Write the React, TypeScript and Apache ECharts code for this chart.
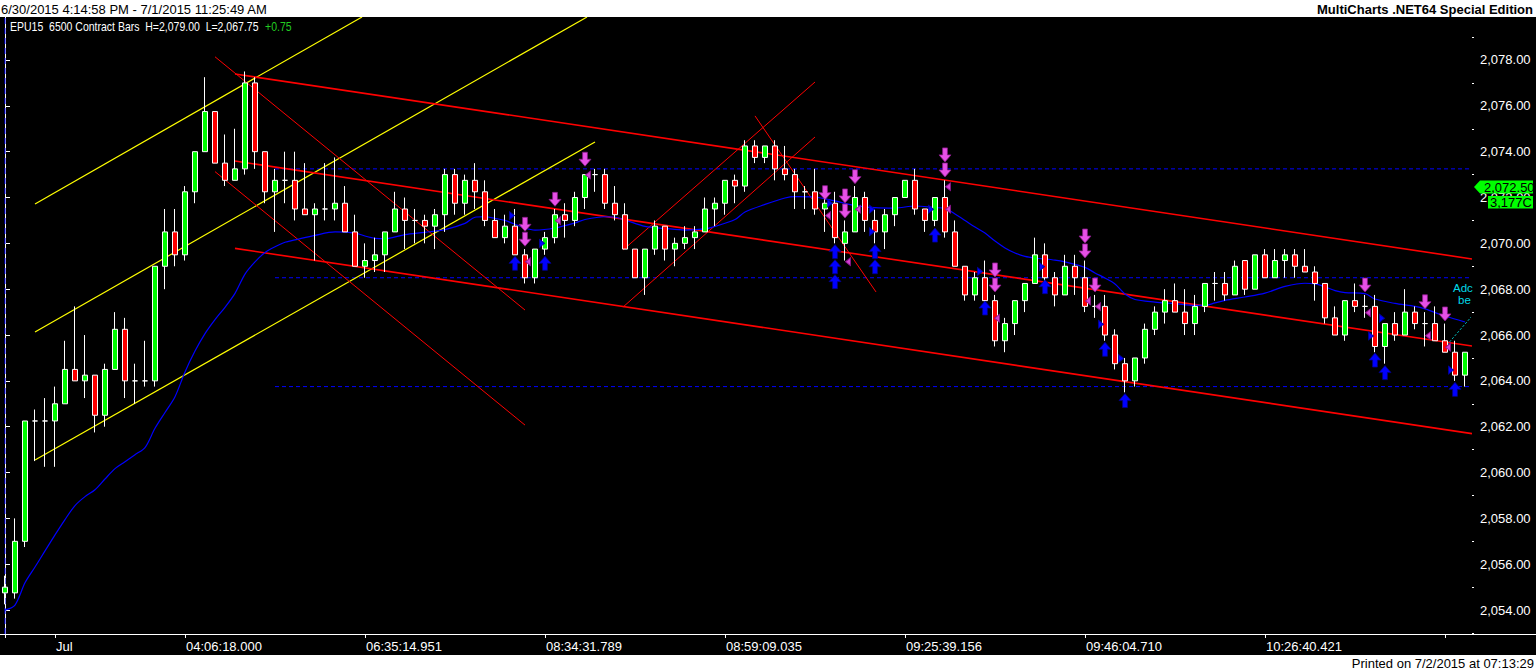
import React, { useEffect, useRef } from "react";
import * as echarts from "echarts";

// ---------- DATA ----------
const barOpen = [
  2054.75, 2054.75, 2057.0, 2062.25, 2062.25, 2062.25, 2063.0, 2064.5, 2064.0, 2064.25,
  2062.5, 2064.5, 2066.25, 2064.0, 2064.0, 2064.0, 2069.0, 2070.5, 2069.5, 2072.25,
  2074.0, 2075.75, 2073.5, 2072.75, 2073.25, 2077.0, 2074.0, 2072.25, 2072.75, 2072.75,
  2071.5, 2071.25, 2071.5, 2071.5, 2071.75, 2070.5, 2069.0, 2069.25, 2069.5, 2070.5,
  2071.5, 2071.0, 2071.0, 2070.75, 2071.25, 2073.0, 2071.75, 2072.75, 2072.25, 2071.0,
  2070.25, 2070.75, 2069.5, 2068.5, 2069.75, 2070.25, 2071.25, 2071.0, 2072.0, 2073.0,
  2073.0, 2071.75, 2071.25, 2069.75, 2068.5, 2069.75, 2070.75, 2069.75, 2070.0, 2070.25,
  2070.5, 2071.5, 2071.75, 2072.75, 2072.5, 2074.25, 2073.75, 2074.25, 2073.25, 2073.0,
  2072.25, 2072.25, 2071.5, 2071.75, 2070.0, 2070.5, 2072.0, 2071.0, 2070.5, 2071.25,
  2072.0, 2072.75, 2071.5, 2071.0, 2072.0, 2070.5, 2069.0, 2067.75, 2068.5, 2067.5,
  2065.75, 2066.5, 2067.5, 2068.25, 2069.5, 2068.5, 2067.75, 2069.0, 2068.5, 2067.25,
  2067.25, 2066.0, 2064.75, 2064.0, 2065.0, 2066.25, 2067.0, 2067.5, 2067.0, 2066.5,
  2067.25, 2068.25, 2068.25, 2067.75, 2069.25, 2068.0, 2069.5, 2068.5, 2069.25, 2069.5,
  2069.0, 2068.75, 2068.25, 2066.75, 2066.0, 2067.5, 2067.25, 2067.25, 2065.5, 2066.5,
  2066.0, 2067.0, 2066.5, 2066.5, 2065.75, 2065.25, 2064.25,
];
const barClose = [
  2055.0, 2057.0, 2062.25, 2062.25, 2062.25, 2063.0, 2064.5, 2064.0, 2064.25, 2062.5,
  2064.5, 2066.25, 2064.0, 2064.0, 2064.0, 2069.0, 2070.5, 2069.5, 2072.25, 2074.0,
  2075.75, 2073.5, 2072.75, 2073.25, 2077.0, 2074.0, 2072.25, 2072.75, 2072.75, 2071.5,
  2071.25, 2071.5, 2071.5, 2071.75, 2070.5, 2069.0, 2069.25, 2069.5, 2070.5, 2071.5,
  2071.0, 2071.0, 2070.75, 2071.25, 2073.0, 2071.75, 2072.75, 2072.25, 2071.0, 2070.25,
  2070.75, 2069.5, 2068.5, 2069.75, 2070.25, 2071.25, 2071.0, 2072.0, 2073.0, 2073.0,
  2071.75, 2071.25, 2069.75, 2068.5, 2069.75, 2070.75, 2069.75, 2070.0, 2070.25, 2070.5,
  2071.5, 2071.75, 2072.75, 2072.5, 2074.25, 2073.75, 2074.25, 2073.25, 2073.0, 2072.25,
  2072.25, 2071.5, 2071.75, 2070.25, 2070.5, 2072.0, 2071.0, 2070.5, 2071.25, 2072.0,
  2072.75, 2071.5, 2071.0, 2072.0, 2070.5, 2069.0, 2067.75, 2068.5, 2067.5, 2065.75,
  2066.5, 2067.5, 2068.25, 2069.5, 2068.5, 2067.75, 2069.0, 2068.5, 2067.25, 2067.25,
  2066.0, 2064.75, 2064.0, 2065.0, 2066.25, 2067.0, 2067.5, 2067.0, 2066.5, 2067.25,
  2068.25, 2068.25, 2067.75, 2069.0, 2068.0, 2069.5, 2068.5, 2069.25, 2069.5, 2069.0,
  2068.75, 2068.25, 2066.75, 2066.0, 2067.5, 2067.25, 2067.25, 2065.5, 2066.5, 2066.0,
  2067.0, 2066.5, 2066.5, 2065.75, 2065.25, 2064.25, 2065.25,
];
const barLow = [
  2054.25, 2054.5, 2056.75, 2060.5, 2060.25, 2060.25, 2063.0, 2064.0, 2063.25, 2061.75,
  2062.0, 2064.5, 2063.25, 2063.0, 2063.75, 2063.75, 2068.0, 2069.0, 2069.25, 2071.75,
  2074.0, 2073.5, 2072.5, 2072.75, 2073.0, 2073.25, 2071.75, 2070.5, 2071.75, 2071.0,
  2071.25, 2069.25, 2071.0, 2071.0, 2070.5, 2069.0, 2068.5, 2068.75, 2068.75, 2070.5,
  2069.75, 2070.0, 2070.0, 2069.75, 2070.5, 2071.25, 2071.25, 2071.5, 2070.75, 2070.25,
  2070.0, 2069.5, 2068.25, 2068.25, 2069.5, 2070.0, 2070.25, 2070.75, 2071.5, 2072.25,
  2071.5, 2071.0, 2069.75, 2068.5, 2067.75, 2069.5, 2069.25, 2069.0, 2069.75, 2069.75,
  2070.5, 2070.75, 2071.25, 2071.75, 2072.25, 2073.5, 2073.5, 2072.75, 2072.75, 2071.5,
  2071.5, 2071.25, 2070.5, 2070.0, 2069.25, 2070.5, 2070.5, 2070.0, 2069.75, 2070.75,
  2072.0, 2071.25, 2070.5, 2070.75, 2070.25, 2069.0, 2067.5, 2067.5, 2067.25, 2065.5,
  2065.25, 2066.0, 2067.0, 2068.25, 2068.25, 2067.25, 2067.75, 2067.75, 2067.0, 2066.75,
  2065.75, 2064.5, 2063.5, 2063.75, 2064.75, 2066.0, 2066.5, 2067.0, 2066.0, 2066.0,
  2067.0, 2067.5, 2067.5, 2067.75, 2067.75, 2068.0, 2068.5, 2068.5, 2068.5, 2068.5,
  2068.75, 2067.5, 2066.5, 2066.0, 2065.75, 2067.0, 2066.75, 2065.25, 2064.75, 2065.75,
  2066.0, 2066.25, 2065.5, 2065.75, 2065.25, 2064.0, 2063.75,
];
const barHigh = [
  2055.5, 2058.0, 2062.25, 2062.75, 2063.25, 2063.75, 2065.75, 2067.25, 2066.0, 2064.25,
  2064.75, 2067.0, 2066.75, 2064.75, 2065.75, 2069.0, 2071.5, 2071.5, 2072.5, 2074.0,
  2077.25, 2075.75, 2074.75, 2075.0, 2077.5, 2077.25, 2074.0, 2073.25, 2074.0, 2074.0,
  2073.5, 2071.75, 2073.5, 2073.75, 2072.5, 2071.25, 2070.0, 2070.25, 2070.5, 2072.25,
  2072.0, 2071.5, 2071.25, 2071.5, 2073.25, 2073.25, 2073.0, 2073.5, 2072.75, 2071.5,
  2071.25, 2071.5, 2069.75, 2069.75, 2070.5, 2071.5, 2071.75, 2072.25, 2073.0, 2073.25,
  2073.25, 2072.5, 2071.75, 2069.75, 2069.75, 2071.0, 2070.75, 2070.25, 2070.75, 2070.75,
  2072.0, 2072.0, 2072.75, 2073.0, 2074.5, 2074.5, 2074.25, 2074.5, 2074.25, 2073.25,
  2072.5, 2073.25, 2072.0, 2072.25, 2071.0, 2072.5, 2072.25, 2071.5, 2071.5, 2072.0,
  2072.75, 2073.25, 2071.5, 2072.0, 2072.75, 2071.0, 2069.0, 2068.75, 2069.25, 2067.75,
  2066.75, 2067.5, 2068.25, 2070.25, 2070.0, 2068.75, 2069.5, 2069.5, 2069.25, 2067.75,
  2067.75, 2066.25, 2065.0, 2065.0, 2066.5, 2067.25, 2068.0, 2068.25, 2068.0, 2067.75,
  2068.25, 2068.75, 2068.75, 2069.25, 2069.25, 2069.5, 2069.75, 2069.75, 2069.75, 2069.75,
  2069.75, 2069.0, 2068.25, 2067.25, 2067.5, 2068.25, 2067.75, 2067.75, 2066.5, 2067.0,
  2068.0, 2067.25, 2067.0, 2067.25, 2066.5, 2065.75, 2065.25,
];
const categories = barOpen.map((_, i) => String(i + 1));

const timeTickIndex = [0, 5, 18, 36, 54, 72, 90, 108, 126, 144];
const timeTickText = ["", "Jul", "04:06:18.000", "06:35:14.951", "08:34:31.789", "08:59:09.035", "09:25:39.156", "09:46:04.710", "10:26:40.421", ""];

const priceLabels = [2054, 2056, 2058, 2060, 2062, 2064, 2066, 2068, 2070, 2072, 2074, 2076, 2078];
const priceMinorTicks = [2053, 2055, 2057, 2059, 2061, 2063, 2065, 2067, 2069, 2071, 2073, 2075, 2077, 2079];

// moving average (bar index, price)
const maIndex = [0, 1, 2, 3, 4, 5, 6, 7, 8, 9, 10, 11, 12, 13, 14, 15, 16, 17, 18, 19, 20, 21, 22, 23, 24, 25, 26, 27, 28, 29, 31, 33, 35, 36, 37, 38, 40, 42, 44, 46, 47, 48, 49, 50, 52, 53, 55, 57, 58, 60, 61, 62, 64, 66, 68, 70, 71, 73, 74, 76, 78, 79, 81, 83, 85, 87, 89, 91, 93, 94, 95, 96, 97, 98, 99, 100, 101, 102, 103, 105, 106, 108, 109, 110, 111, 112, 113, 115, 117, 119, 120, 121, 122, 124, 126, 128, 130, 131, 132, 133, 134, 136, 137, 139, 141, 142, 144, 146];
const maValue = [2054.0, 2054.22, 2055.19, 2055.88, 2056.58, 2057.28, 2057.95, 2058.56, 2058.95, 2059.25, 2059.72, 2060.17, 2060.47, 2060.78, 2061.09, 2061.93, 2062.62, 2063.31, 2064.39, 2065.3, 2066.06, 2066.67, 2067.21, 2067.82, 2068.66, 2069.19, 2069.6, 2069.85, 2070.05, 2070.15, 2070.35, 2070.5, 2070.45, 2070.32, 2070.22, 2070.2, 2070.38, 2070.48, 2070.6, 2070.87, 2071.14, 2071.16, 2071.09, 2071.0, 2070.67, 2070.58, 2070.67, 2070.89, 2071.04, 2071.16, 2071.14, 2071.02, 2070.74, 2070.65, 2070.58, 2070.63, 2070.74, 2071.04, 2071.37, 2071.7, 2071.98, 2072.04, 2072.02, 2071.85, 2071.65, 2071.56, 2071.54, 2071.63, 2071.56, 2071.53, 2071.28, 2071.0, 2070.71, 2070.45, 2070.1, 2069.8, 2069.58, 2069.43, 2069.36, 2069.27, 2069.19, 2068.95, 2068.71, 2068.49, 2068.23, 2067.79, 2067.55, 2067.44, 2067.37, 2067.29, 2067.29, 2067.4, 2067.51, 2067.66, 2067.83, 2068.12, 2068.26, 2068.23, 2068.1, 2067.94, 2067.85, 2067.81, 2067.57, 2067.38, 2067.25, 2067.14, 2066.83, 2066.57];

// drawn trend lines, endpoints as [bar index, price]
const yellowChannel = [
  [[3, 2071.72], [35.7, 2079.88]],
  [[3, 2066.13], [58.2, 2079.88]],
  [[3, 2060.55], [59.0, 2074.42]],
];
const redChannel = [
  [[23, 2077.39], [146.7, 2069.32]],
  [[23, 2073.59], [146.7, 2065.52]],
  [[23, 2069.78], [146.7, 2061.7]],
];
const redThinLines = [
  [[21, 2078.14], [52, 2067.09]],
  [[21, 2073.13], [52, 2062.07]],
  [[61.8, 2069.71], [81, 2077.04]],
  [[61.8, 2067.22], [81, 2074.64]],
  [[75, 2075.56], [87.1, 2067.88]],
];
const levelPrices = [2073.25, 2068.5, 2063.75];
const levelStartBar = 27;
const cyanLine = [[144.2, 2065.57], [146.7, 2066.83]];

// signal markers [bar index, price]
const sellArrows = [
  [58, 2073.67], [55, 2071.92], [52, 2070.83], [52, 2070.18], [82, 2072.21], [84, 2072.07], [84, 2071.41],
  [85, 2072.91], [94, 2073.86], [94, 2073.2], [99, 2068.84], [99, 2068.18], [108, 2070.32], [108, 2069.67],
  [109, 2068.18], [136, 2068.18], [142, 2067.45], [144, 2066.92],
];
const buyArrows = [
  [51, 2069.13], [54, 2069.13], [83, 2069.64], [83, 2068.98], [83, 2068.33], [87, 2069.64], [87, 2068.98],
  [93, 2070.36], [98, 2067.18], [104, 2068.11], [110, 2065.38], [112, 2063.14], [137, 2064.91], [138, 2064.36],
  [145, 2063.63],
];
const pinkTriangles = [
  [52.3, 2069.2], [55.3, 2070.99], [58.3, 2072.98], [82.3, 2071.21], [85.3, 2071.49], [84.3, 2069.2],
  [94.3, 2072.47], [94.3, 2071.49], [99.2, 2066.73], [108.3, 2067.49], [109.3, 2067.24], [136.3, 2066.97],
  [142.3, 2065.97], [144.3, 2065.47],
];
const blueTriangles = [
  [50.7, 2071.21], [53.7, 2070.0], [82.5, 2071.75], [86.7, 2071.49], [86.7, 2070.51], [92.6, 2071.49],
  [97.5, 2068.77], [103.7, 2068.98], [109.6, 2066.47], [111.6, 2064.98], [137.7, 2066.73], [136.6, 2065.96],
  [144.6, 2064.47],
];

const lastPrice = "2,072.50";
const lastVolume = "3,177C";

// ---------- CHART ----------
const FONT = '"Liberation Sans", Arial, sans-serif';
const Y_MIN = 2052.956;
const Y_MAX = 2079.876;
const X_MIN = -0.5;
const X_MAX = barOpen.length - 0.5;

const fmtPrice = (v: number) =>
  v.toLocaleString("en-US", { minimumFractionDigits: 2, maximumFractionDigits: 2 });

function lineSeries(points: number[][], color: string, width: number, type: any = "solid") {
  return {
    type: "line",
    xAxisIndex: 1,
    yAxisIndex: 0,
    data: points,
    symbol: "none",
    silent: true,
    lineStyle: { color, width, type },
    z: 2,
  };
}

function buildOption(): any {
  const series: any[] = [];
  levelPrices.forEach((p) =>
    series.push(lineSeries([[levelStartBar, p], [X_MAX + 0.2, p]], "#0000ff", 1, [4, 3]))
  );
  series.push(lineSeries([[0, Y_MIN], [0, Y_MAX]], "#0000ff", 1, [6, 4]));
  yellowChannel.forEach((l) => series.push(lineSeries(l, "#ffff00", 1.2)));
  redThinLines.forEach((l) => series.push(lineSeries(l, "#ff0000", 1)));
  redChannel.forEach((l) => series.push(lineSeries(l, "#ff0000", 1.6)));
  series.push(lineSeries(cyanLine, "#00d8d8", 1, [2, 2]));
  series.push({
    type: "line",
    xAxisIndex: 1,
    yAxisIndex: 0,
    data: maIndex.map((x, i) => [x, maValue[i]]),
    symbol: "none",
    smooth: 0.3,
    lineStyle: { color: "#0000ff", width: 1.2 },
    z: 2,
  });
  series.push({
    type: "candlestick",
    xAxisIndex: 0,
    yAxisIndex: 0,
    barWidth: 6,
    data: barOpen.map((o, i) => [o, barClose[i], barLow[i], barHigh[i]]),
    itemStyle: {
      color: "#00ff00",
      color0: "#ff0000",
      borderColor: "#ffffff",
      borderColor0: "#ffffff",
      borderColorDoji: "#ffffff",
      borderWidth: 1,
    },
    z: 3,
  });
  const scatter = (data: number[][], symbol: string, size: number[], fill: string, stroke: string) => ({
    type: "scatter",
    xAxisIndex: 1,
    yAxisIndex: 0,
    data,
    symbol,
    symbolSize: size,
    itemStyle: { color: fill, borderColor: stroke, borderWidth: 0.8, opacity: 1 },
    silent: true,
    z: 4,
  });
  series.push(scatter(sellArrows, "path://M3,0 L7,0 L7,6 L10,6 L5,12 L0,6 L3,6 Z", [12, 14], "#e650e6", "#8a1a8a"));
  series.push(scatter(buyArrows, "path://M5,0 L10,6 L7,6 L7,12 L3,12 L3,6 L0,6 Z", [12, 14], "#0000ff", "#00008a"));
  series.push(scatter(pinkTriangles, "path://M0,4 L5,0 L5,8 Z", [5, 8], "#d040d0", "#901090"));
  series.push(scatter(blueTriangles, "path://M0,0 L5,4 L0,8 Z", [5, 8], "#0000ff", "#0000a0"));

  const labelFor = (index: number) => {
    const k = timeTickIndex.indexOf(index);
    return k >= 0 ? timeTickText[k] : "";
  };

  const txt = (text: string, x: number, y: number, font: string, fill: string, align: string, extra: any = {}) => ({
    type: "text",
    x,
    y,
    z: 60,
    ...extra,
    style: { text, font, fill, textAlign: align, textVerticalAlign: "middle", align, verticalAlign: "middle" },
  });

  return {
    animation: false,
    backgroundColor: "#000000",
    grid: { left: 0, top: 17, width: 1470, height: 617, containLabel: false, outerBoundsMode: "none" },
    xAxis: [
      {
        type: "category",
        data: categories,
        boundaryGap: true,
        axisLine: { show: true, lineStyle: { color: "#ffffff", width: 1 } },
        axisTick: {
          show: true,
          alignWithLabel: true,
          length: 4,
          lineStyle: { color: "#ffffff" },
          interval: (index: number) => timeTickIndex.includes(index),
        },
        axisLabel: {
          show: true,
          interval: (index: number) => timeTickIndex.includes(index),
          formatter: (_v: string, index: number) => labelFor(index),
          align: "left",
          margin: 6,
          color: "#ffffff",
          fontFamily: FONT,
          fontSize: 13,
          padding: [0, 0, 0, 1],
        },
        splitLine: { show: false },
      },
      {
        type: "value",
        min: X_MIN,
        max: X_MAX,
        show: false,
        gridIndex: 0,
        splitLine: { show: false },
      },
    ],
    yAxis: [
      {
        type: "value",
        position: "right",
        offset: 2,
        min: Y_MIN,
        max: Y_MAX,
        axisLine: { show: true, lineStyle: { color: "#ffffff", width: 1 } },
        axisTick: { show: true, inside: false, length: 5, lineStyle: { color: "#ffffff" }, customValues: priceLabels },
        axisLabel: {
          show: true,
          customValues: priceLabels,
          formatter: (v: number) => fmtPrice(v),
          color: "#ffffff",
          fontFamily: FONT,
          fontSize: 13,
          margin: 8,
        },
        splitLine: { show: false },
      },
      {
        type: "value",
        position: "right",
        offset: 2,
        min: Y_MIN,
        max: Y_MAX,
        axisLine: { show: false },
        axisTick: { show: true, inside: false, length: 2, lineStyle: { color: "#ffffff" }, customValues: priceMinorTicks },
        axisLabel: { show: false },
        splitLine: { show: false },
      },
    ],
    series,
    graphic: [
      { type: "rect", shape: { x: 0, y: 0, width: 1536, height: 17 }, style: { fill: "#ffffff" }, z: 50 },
      { type: "rect", shape: { x: 0, y: 655, width: 1536, height: 15 }, style: { fill: "#ffffff" }, z: 50 },
      { type: "line", shape: { x1: 1470, y1: 634.5, x2: 1536, y2: 634.5 }, style: { stroke: "#ffffff", lineWidth: 1 }, z: 50 },
      txt("6/30/2015 4:14:58 PM - 7/1/2015 11:25:49 AM", 1, 9, `13px ${FONT}`, "#000000", "left"),
      txt("MultiCharts .NET64 Special Edition", 1533, 9, `bold 13px ${FONT}`, "#000000", "right"),
      txt("EPU15  6500 Contract Bars  H=2,079.00  L=2,067.75", 10, 27, `12px ${FONT}`, "#ffffff", "left", { scaleX: 0.875 }),
      txt("+0.75", 265, 27, `12px ${FONT}`, "#22cc22", "left", { scaleX: 0.875 }),
      txt("Printed on 7/2/2015 at 07:13:29", 1534, 663, `13px ${FONT}`, "#000000", "right"),
      {
        type: "polygon", z: 70,
        shape: { points: [[1474, 187], [1480, 180.5], [1533, 180.5], [1533, 193.5], [1480, 193.5]] },
        style: { fill: "#00ff00" },
      },
      txt(lastPrice, 1484, 187.5, `13px ${FONT}`, "#000000", "left", { z: 71 }),
      { type: "rect", z: 70, shape: { x: 1488, y: 196, width: 45, height: 12.5 }, style: { fill: "#00ff00" } },
      txt(lastVolume, 1490, 202.5, `13px ${FONT}`, "#000000", "left", { z: 71 }),
      txt("Adc", 1453, 288, `11.5px ${FONT}`, "#00d8e8", "left"),
      txt("be", 1458, 299.5, `11.5px ${FONT}`, "#00d8e8", "left"),
    ],
  };
}

export default function App() {
  const ref = useRef<HTMLDivElement>(null);
  useEffect(() => {
    document.body.style.margin = "0";
    if (!ref.current) return;
    const chart = echarts.init(ref.current, undefined, { renderer: "svg" });
    chart.setOption(buildOption());
    return () => chart.dispose();
  }, []);
  return <div ref={ref} style={{ width: 1536, height: 670 }} />;
}
